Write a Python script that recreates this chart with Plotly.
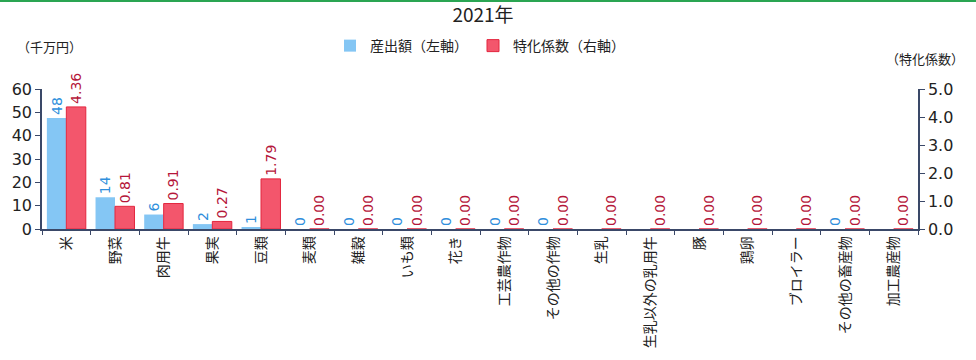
import plotly.graph_objects as go

categories = ["米", "野菜", "肉用牛", "果実", "豆類", "麦類", "雑穀", "いも類", "花き",
              "工芸農作物", "その他の作物", "生乳", "生乳以外の乳用牛", "豚", "鶏卵",
              "ブロイラー", "その他の畜産物", "加工農産物"]
output_value = [47.6, 13.6, 6.2, 2.1, 0.7, 0, 0, 0, 0, 0, 0,
                None, None, None, None, None, 0, None]
specialization = [4.36, 0.81, 0.91, 0.27, 1.79, 0.00, 0.00, 0.00, 0.00, 0.00, 0.00,
                  0.00, 0.00, 0.00, 0.00, 0.00, 0.00, 0.00]
left_ticks = [0, 10, 20, 30, 40, 50, 60]
right_ticks = [0.0, 1.0, 2.0, 3.0, 4.0, 5.0]

FONT = "Noto Sans CJK JP"
NUM_FONT = "DejaVu Sans"
AXIS_COLOR = "#3a4868"

blue_text = ["" if v is None else f"{v:.0f}" for v in output_value]
red_text = [f"{v:.2f}" for v in specialization]

fig = go.Figure()
fig.add_trace(go.Bar(
    x=categories, y=output_value, name="産出額（左軸）",
    marker=dict(color="#84c6f4", line=dict(width=0)),
    text=blue_text, textposition="outside", textangle=-90,
    textfont=dict(color="#2f8fdc", size=14, family=NUM_FONT),
    cliponaxis=False, offsetgroup="a", yaxis="y",
))
fig.add_trace(go.Bar(
    x=categories, y=specialization, name="特化係数（右軸）",
    marker=dict(color="#f3566c", line=dict(width=1, color="#e3263e")),
    text=red_text, textposition="outside", textangle=-90,
    textfont=dict(color="#b5163a", size=14, family=NUM_FONT),
    cliponaxis=False, offsetgroup="b", yaxis="y2",
))

fig.update_layout(
    width=976, height=360,
    margin=dict(l=42, r=58, t=89, b=131, autoexpand=False),
    paper_bgcolor="white", plot_bgcolor="white",
    font=dict(family=FONT, color="#222222"),
    barmode="group", bargap=0.2, bargroupgap=0,
    uniformtext=dict(minsize=14, mode="show"),
    title=dict(text="2021年", xref="container", x=483 / 976, xanchor="center",
               yref="container", y=1 - 15 / 360, yanchor="middle",
               font=dict(size=19, family=FONT, color="#222222")),
    legend=dict(orientation="h", x=0.5, xanchor="center", y=1.307, yanchor="middle",
                font=dict(size=14, family=FONT), itemwidth=30, tracegroupgap=0,
                bgcolor="rgba(0,0,0,0)"),
    xaxis=dict(
        type="category", tickangle=-90, tickfont=dict(size=14, family=FONT, color="#222"),
        showline=True, linecolor=AXIS_COLOR, linewidth=1.5,
        ticks="outside", tickson="boundaries", ticklen=4, tickcolor=AXIS_COLOR,
        showgrid=False,
    ),
    yaxis=dict(
        range=[0, 60], tickvals=left_ticks, showgrid=False, zeroline=False,
        showline=True, linecolor=AXIS_COLOR, linewidth=1.5,
        ticks="outside", ticklen=5, tickcolor=AXIS_COLOR,
        tickfont=dict(size=16, family=NUM_FONT, color="#222"),
    ),
    yaxis2=dict(
        range=[0, 5], tickvals=right_ticks, tickformat=".1f", overlaying="y", side="right",
        showgrid=False, zeroline=False,
        showline=True, linecolor=AXIS_COLOR, linewidth=1.5,
        ticks="outside", ticklen=5, tickcolor=AXIS_COLOR,
        tickfont=dict(size=16, family=NUM_FONT, color="#222"),
    ),
    annotations=[
        dict(text="（千万円）", xref="paper", yref="paper", x=-0.031, y=1.307,
             xanchor="left", yanchor="middle", showarrow=False,
             font=dict(size=13, family=FONT, color="#222")),
        dict(text="（特化係数）", xref="paper", yref="paper", x=1.008, y=1.221,
             xanchor="center", yanchor="middle", showarrow=False,
             font=dict(size=13, family=FONT, color="#222")),
    ],
    shapes=[
        dict(type="line", xref="paper", yref="paper", x0=-0.05, x1=1.07,
             y0=1.628, y1=1.628, line=dict(color="#2aa552", width=2)),
    ],
)

fig.write_html("out.html", config={"displayModeBar": False},
               post_script="document.body.style.margin='0px';document.body.style.overflow='hidden';")
